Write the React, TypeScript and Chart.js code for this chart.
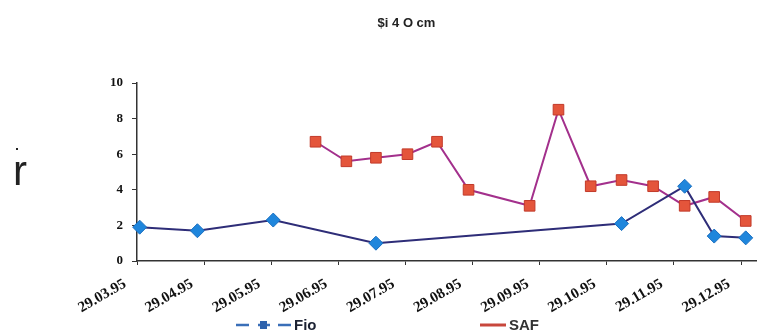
import React, { useEffect, useRef } from "react";
import { Chart, registerables } from "chart.js";

Chart.register(...registerables);

// x positions in months after the first tick (29.03.95 = 0)
const tickLabels = [
  "29.03.95", "29.04.95", "29.05.95", "29.06.95", "29.07.95",
  "29.08.95", "29.09.95", "29.10.95", "29.11.95", "29.12.95",
];
const fioX = [0.04, 0.9, 2.03, 3.56, 7.22, 8.16, 8.6, 9.07];
const fioY = [1.9, 1.7, 2.3, 1.0, 2.1, 4.2, 1.4, 1.3];
const safX = [2.66, 3.12, 3.56, 4.03, 4.47, 4.94, 5.85, 6.28, 6.76, 7.22, 7.69, 8.16, 8.6, 9.07];
const safY = [6.7, 5.6, 5.8, 6.0, 6.7, 4.0, 3.1, 8.5, 4.2, 4.55, 4.2, 3.1, 3.6, 2.25];
const yTicks = [0, 2, 4, 6, 8, 10];
const titleText = "$i 4 O cm";

const W = 790;
const H = 334;
const AXIS_LEFT = 137;
const AXIS_TOP = 83;
const AXIS_BOTTOM = 261;
const UNIT = 68;

export default function App() {
  const ref = useRef<HTMLCanvasElement | null>(null);
  useEffect(() => {
    if (!ref.current) return;
    const xMax = (W - AXIS_LEFT) / UNIT;
    const chart = new Chart(ref.current, {
      type: "line",
      data: {
        datasets: [
          {
            label: "Fio",
            data: fioX.map((x, i) => ({ x, y: fioY[i] })),
            borderColor: "#2e2d78",
            borderWidth: 2,
            pointStyle: "rectRot",
            pointRadius: 7,
            pointBackgroundColor: "#1f86dc",
            pointBorderColor: "#1a6fc0",
            pointBorderWidth: 1,
            tension: 0,
            clip: false as any,
          },
          {
            label: "SAF",
            data: safX.map((x, i) => ({ x, y: safY[i] })),
            borderColor: "#a3308c",
            borderWidth: 2,
            pointStyle: "rect",
            pointRadius: 7.5,
            pointBackgroundColor: "#e4553b",
            pointBorderColor: "#c23a2a",
            pointBorderWidth: 1,
            tension: 0,
            clip: false as any,
          },
        ],
      },
      options: {
        animation: false,
        responsive: false,
        devicePixelRatio: 1,
        layout: { padding: { top: AXIS_TOP, left: 0, right: 0, bottom: 0 } },
        plugins: { legend: { display: false }, tooltip: { enabled: false } },
        scales: {
          x: {
            type: "linear",
            min: 0,
            max: xMax,
            grid: { display: true, drawOnChartArea: false, tickLength: 4, color: "#333" },
            border: { display: true, color: "#333", width: 1.5 },
            afterBuildTicks: (s: any) => {
              s.ticks = tickLabels.map((_, i) => ({ value: i }));
            },
            ticks: {
              autoSkip: false,
              minRotation: 30,
              maxRotation: 30,
              labelOffset: -12,
              padding: 10,
              color: "#111",
              font: { family: "Liberation Serif", size: 15, weight: "bold" },
              callback: (v: any) => tickLabels[Math.round(v)] ?? "",
            },
            afterFit: (s: any) => {
              s.height = H - AXIS_BOTTOM;
            },
          },
          y: {
            min: 0,
            max: 10,
            afterBuildTicks: (s: any) => {
              s.ticks = yTicks.map((v) => ({ value: v }));
            },
            grid: { display: true, drawOnChartArea: false, tickLength: 5, color: "#333" },
            border: { display: true, color: "#333", width: 1.5 },
            ticks: {
              color: "#111",
              padding: 9,
              font: { family: "Liberation Serif", size: 13, weight: "bold" },
            },
            afterFit: (s: any) => {
              s.width = AXIS_LEFT;
            },
          },
        },
      },
    });
    return () => chart.destroy();
  }, []);

  return (
    <div
      style={{
        position: "fixed",
        left: 0,
        top: 0,
        width: 757,
        height: 334,
        overflow: "hidden",
        background: "#fff",
      }}
    >
      <canvas ref={ref} width={W} height={H} style={{ position: "absolute", left: 0, top: 0 }} />
      <div
        style={{
          position: "absolute",
          left: 0,
          width: 757,
          top: 15,
          textAlign: "center",
          fontFamily: "Liberation Sans, Arial, sans-serif",
          fontWeight: "bold",
          fontSize: 13,
          color: "#222",
          paddingLeft: 56,
          boxSizing: "border-box",
        }}
      >
        {titleText}
      </div>
      <div
        style={{
          position: "absolute",
          left: 16,
          top: 148,
          width: 2,
          height: 2,
          background: "#222",
        }}
      />
      <div
        style={{
          position: "absolute",
          left: 13,
          top: 148,
          fontFamily: "Liberation Sans, Arial, sans-serif",
          fontSize: 42,
          lineHeight: "46px",
          color: "#222",
        }}
      >
        r
      </div>
      <div
        style={{
          position: "absolute",
          left: 236,
          top: 316,
          display: "flex",
          alignItems: "center",
          fontFamily: "Liberation Sans, Arial, sans-serif",
          fontWeight: "bold",
          fontSize: 15,
          color: "#1c2233",
        }}
      >
        <svg width="56" height="12" style={{ marginRight: 2 }}>
          <line x1="0" y1="6" x2="13" y2="6" stroke="#3a6fb8" strokeWidth="2.5" />
          <line x1="22" y1="6" x2="34" y2="6" stroke="#3a6fb8" strokeWidth="2.5" />
          <rect x="24" y="2" width="7" height="8" fill="#2f63ad" />
          <line x1="42" y1="6" x2="55" y2="6" stroke="#3a6fb8" strokeWidth="2.5" />
        </svg>
        Fio
      </div>
      <div
        style={{
          position: "absolute",
          left: 480,
          top: 316,
          display: "flex",
          alignItems: "center",
          fontFamily: "Liberation Sans, Arial, sans-serif",
          fontWeight: "bold",
          fontSize: 15,
          color: "#333",
        }}
      >
        <svg width="27" height="12" style={{ marginRight: 2 }}>
          <line x1="0" y1="6" x2="26" y2="6" stroke="#c8473c" strokeWidth="3" />
        </svg>
        SAF
      </div>
    </div>
  );
}
